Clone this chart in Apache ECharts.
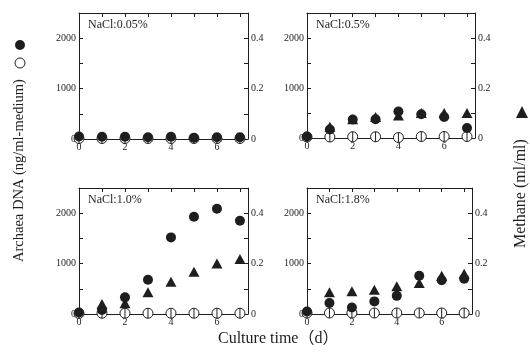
<!DOCTYPE html>
<html>
<head>
<meta charset="utf-8">
<script src="https://cdn.jsdelivr.net/npm/echarts@6/dist/echarts.min.js"></script>
<style>
  html, body { margin: 0; padding: 0; background: #fff; }
  #main { width: 530px; height: 352px; }
</style>
</head>
<body>
<div id="main"></div>
<script>
// culture days
let days = [0, 1, 2, 3, 4, 5, 6, 7];
let panelLabels = ['NaCl:0.05%', 'NaCl:0.5%', 'NaCl:1.0%', 'NaCl:1.8%'];

// Archaea DNA, filled circles (ng/ml-medium)
let dna005 = [50, 45, 45, 35, 45, 25, 35, 35];
let dna05 = [30, 170, 370, 375, 530, 475, 420, 200];
let dna10 = [30, 80, 330, 680, 1520, 1930, 2090, 1850];
let dna18 = [50, 220, 130, 250, 360, 760, 670, 700];

// open circles
let open005 = [10, 10, 10, 10, 10, 10, 10, 10];
let open05 = [20, 20, 25, 25, 10, 30, 30, 30];
let open10 = [10, 15, 15, 15, 15, 15, 15, 15];
let open18 = [20, 20, 20, 20, 20, 20, 20, 20];

// methane, triangles (ml/ml)
let ch4005 = [null, null, null, null, null, null, null, null];
let ch405 = [null, 0.045, 0.075, 0.084, 0.09, 0.1, 0.1, 0.1];
let ch410 = [null, 0.04, 0.043, 0.086, 0.128, 0.168, 0.2, 0.218];
let ch418 = [null, 0.086, 0.09, 0.096, 0.11, 0.123, 0.152, 0.16];

let dnaTicks = [0, 1000, 2000];
let ch4Ticks = [0, 0.2, 0.4];
let dayTicks = [0, 2, 4, 6];

let panels = [
    {dna: dna005, open: open005, ch4: ch4005},
    {dna: dna05, open: open05, ch4: ch405},
    {dna: dna10, open: open10, ch4: ch410},
    {dna: dna18, open: open18, ch4: ch418}
];

let ink = '#1e1e1e';
let font = 'Liberation Serif';
let boxes = [
    {left: 79, top: 13, width: 169, height: 126},
    {left: 307, top: 13, width: 168, height: 125},
    {left: 79, top: 188, width: 169, height: 126},
    {left: 307, top: 188, width: 165, height: 126}
];

let openSymbol = 'path://M10,0A10,10,0,1,1,10,20A10,10,0,1,1,10,0ZM10,0L10,20';

let grid = [], xAxis = [], yAxis = [], series = [], graphic = [];

boxes.forEach((b, i) => {
    grid.push(Object.assign({containLabel: false}, b));
    let line = {show: true, onZero: false, lineStyle: {color: ink, width: 1}};
    xAxis.push({
        type: 'value', gridIndex: i, min: 0, max: 7.35, interval: 1,
        axisLine: line,
        axisTick: {inside: true, length: 4, lineStyle: {color: ink}},
        axisLabel: {
            color: ink, fontFamily: font, fontSize: 10, margin: 3,
            showMaxLabel: false,
            formatter: v => dayTicks.indexOf(v) >= 0 ? String(v) : ''
        },
        splitLine: {show: false}
    });
    xAxis.push({
        type: 'value', gridIndex: i, position: 'top', min: 0, max: 7.35, interval: 1,
        axisLine: line,
        axisTick: {inside: true, length: 4, lineStyle: {color: ink}},
        axisLabel: {show: false},
        splitLine: {show: false}
    });
    yAxis.push({
        type: 'value', gridIndex: i, min: 0, max: 2500, interval: 500,
        axisLine: line,
        axisTick: {inside: true, length: 4, lineStyle: {color: ink}},
        axisLabel: {
            color: ink, fontFamily: font, fontSize: 10, margin: 3,
            formatter: v => dnaTicks.indexOf(v) >= 0 ? String(v) : ''
        },
        splitLine: {show: false}
    });
    yAxis.push({
        type: 'value', gridIndex: i, position: 'right', min: 0, max: 0.5, interval: 0.1,
        axisLine: line,
        axisTick: {inside: true, length: 4, lineStyle: {color: ink}},
        axisLabel: {
            color: ink, fontFamily: font, fontSize: 10, margin: 3,
            formatter: v => ch4Ticks.some(t => Math.abs(t - v) < 1e-6) ? String(+v.toFixed(1)) : ''
        },
        splitLine: {show: false}
    });

    let p = panels[i];
    series.push({
        type: 'scatter', xAxisIndex: 2 * i, yAxisIndex: 2 * i + 1,
        symbol: 'triangle', symbolSize: [11, 10],
        itemStyle: {color: ink, opacity: 1},
        data: days.map((d, k) => [d, p.ch4[k]]).filter(v => v[1] != null)
    });
    series.push({
        type: 'scatter', xAxisIndex: 2 * i, yAxisIndex: 2 * i,
        symbol: openSymbol, symbolSize: 10,
        itemStyle: {color: '#fff', borderColor: ink, borderWidth: 1, opacity: 1},
        data: days.map((d, k) => [d, p.open[k]])
    });
    series.push({
        type: 'scatter', xAxisIndex: 2 * i, yAxisIndex: 2 * i,
        symbol: 'circle', symbolSize: 10,
        itemStyle: {color: ink, opacity: 1},
        data: days.map((d, k) => [d, p.dna[k]])
    });

    graphic.push({
        type: 'text', left: b.left + 9, top: b.top + 6,
        style: {text: panelLabels[i], fill: ink, font: '12px "Liberation Serif"'}
    });
});

// axis titles
graphic.push({
    type: 'text', x: 12, y: 262, rotation: Math.PI / 2,
    style: {text: 'Archaea DNA (ng/ml-medium)', fill: ink, font: '14.5px "Liberation Serif"'}
});
graphic.push({type: 'circle', shape: {cx: 20, cy: 45, r: 5}, style: {fill: ink}});
graphic.push({type: 'circle', shape: {cx: 20, cy: 63, r: 5}, style: {fill: '#fff', stroke: ink, lineWidth: 1}});
graphic.push({
    type: 'text', x: 513, y: 248, rotation: Math.PI / 2,
    style: {text: 'Methane (ml/ml)', fill: ink, font: '16px "Liberation Serif"'}
});
graphic.push({type: 'polygon', shape: {points: [[522, 106], [528, 118], [516, 118]]}, style: {fill: ink}});
graphic.push({
    type: 'text', left: 218, top: 331,
    style: {text: 'Culture time（d）', fill: ink, font: '16px "Liberation Serif", "Noto Sans CJK SC"'}
});

let myChart = echarts.init(document.getElementById('main'));
myChart.setOption({
    backgroundColor: '#fff',
    animation: false,
    grid: grid,
    xAxis: xAxis,
    yAxis: yAxis,
    series: series,
    graphic: graphic
});
</script>
</body>
</html>
